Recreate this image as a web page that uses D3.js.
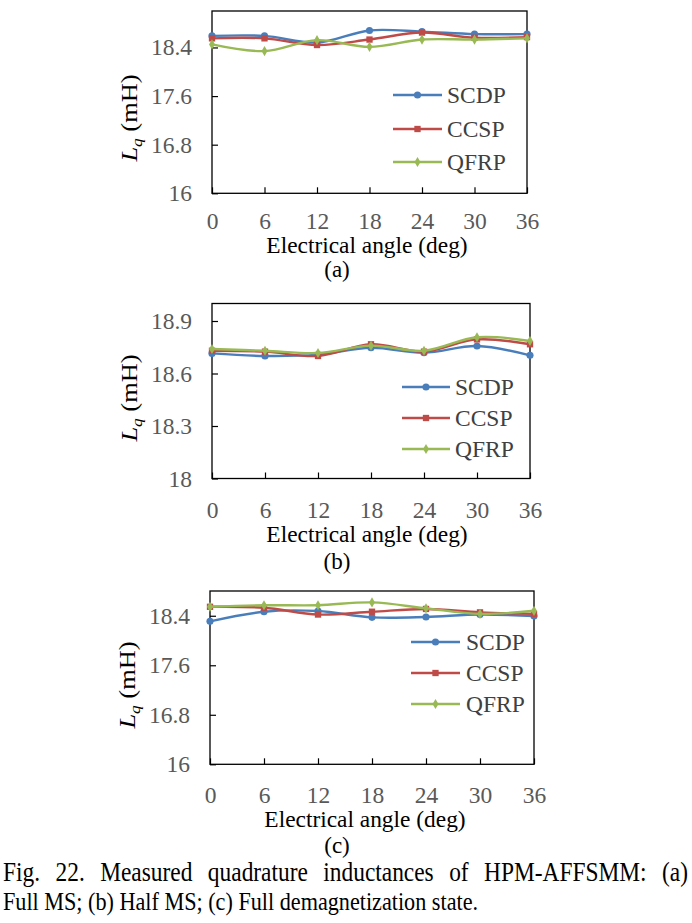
<!DOCTYPE html>
<html><head><meta charset="utf-8">
<script src="https://cdn.jsdelivr.net/npm/d3@7"></script>
<style>
html,body{margin:0;padding:0;background:#fff;}
svg{display:block;}
svg text{font-family:"Liberation Serif","Times New Roman",Times,serif;}
</style></head>
<body>
<svg id="chart" width="692" height="923"></svg>
<script>
// ---- data ----
const angles = [0, 6, 12, 18, 24, 30, 36];
const seriesNames = ["SCDP", "CCSP", "QFRP"];
// (a) Full MS
const scdpA = [18.59, 18.59, 18.48, 18.68, 18.66, 18.62, 18.62];
const ccspA = [18.55, 18.55, 18.44, 18.53, 18.645, 18.56, 18.57];
const qfrpA = [18.45, 18.34, 18.52, 18.41, 18.53, 18.53, 18.55];
// (b) Half MS
const scdpB = [18.715, 18.70, 18.708, 18.747, 18.719, 18.757, 18.704];
const ccspB = [18.730, 18.725, 18.70, 18.767, 18.725, 18.795, 18.767];
const qfrpB = [18.740, 18.730, 18.717, 18.759, 18.730, 18.807, 18.786];
// (c) Full demagnetization state
const scdpC = [18.31, 18.465, 18.476, 18.374, 18.38, 18.42, 18.395];
const ccspC = [18.545, 18.53, 18.42, 18.465, 18.51, 18.455, 18.43];
const qfrpC = [18.545, 18.57, 18.57, 18.616, 18.52, 18.43, 18.48];
// tick labels
const xTicks = [0, 6, 12, 18, 24, 30, 36];
const yTicksA = [16, 16.8, 17.6, 18.4];
const yTicksB = [18, 18.3, 18.6, 18.9];
const yTicksC = [16, 16.8, 17.6, 18.4];
const yDomainA = [16, 19];
const yDomainB = [18, 19];
const yDomainC = [16, 18.8];
const panelLabels = ["(a)", "(b)", "(c)"];
const xTitle = "Electrical angle (deg)";
const captionLines = ["Fig. 22. Measured quadrature inductances of HPM-AFFSMM: (a)",
                      "Full MS; (b) Half MS; (c) Full demagnetization state."];

const colors = {SCDP: "#4A7EBB", CCSP: "#BE4B48", QFRP: "#98B954"};
const markers = {SCDP: d3.symbolCircle, CCSP: d3.symbolSquare, QFRP: d3.symbolDiamond};
const markerSize = {SCDP: 40, CCSP: 40, QFRP: 30};

const svg = d3.select("#chart");

const panels = [
  {vals: [scdpA, ccspA, qfrpA], yDomain: yDomainA, yTicks: yTicksA,
   box: {l: 212, t: 11, r: 527, b: 193.3}, yTitleY: 118, xTickBase: 229, xTitleBase: 252.5, labelBase: 277,
   legend: {x1: 393, x2: 442, tx: 447, ys: [95, 129, 162]}},
  {vals: [scdpB, ccspB, qfrpB], yDomain: yDomainB, yTicks: yTicksB,
   box: {l: 212, t: 303.5, r: 530, b: 478.5}, yTitleY: 398, xTickBase: 518, xTitleBase: 541.5, labelBase: 569,
   legend: {x1: 402, x2: 450, tx: 455, ys: [387, 418, 449]}},
  {vals: [scdpC, ccspC, qfrpC], yDomain: yDomainC, yTicks: yTicksC,
   box: {l: 210, t: 591, r: 534, b: 764.3}, yTitleY: 685, xTickBase: 803, xTitleBase: 826.5, labelBase: 853,
   legend: {x1: 411, x2: 460, tx: 466, ys: [642, 673, 704]}}
];

panels.forEach((p, pi) => {
  const g = svg.append("g");
  const x = d3.scaleLinear().domain([0, 36]).range([p.box.l, p.box.r]);
  const y = d3.scaleLinear().domain(p.yDomain).range([p.box.b, p.box.t]);

  // plot frame
  g.append("rect").attr("x", p.box.l).attr("y", p.box.t)
    .attr("width", p.box.r - p.box.l).attr("height", p.box.b - p.box.t)
    .attr("fill", "none").attr("stroke", "#000").attr("stroke-width", 1.3);

  // y axis (ticks inside)
  const yAxis = d3.axisLeft(y).tickValues(p.yTicks).tickSizeInner(-6).tickSizeOuter(0)
    .tickPadding(20).tickFormat(d3.format(""));
  const ya = g.append("g").attr("transform", `translate(${p.box.l},0)`).call(yAxis);
  ya.attr("font-family", null).attr("font-size", null);
  ya.select(".domain").remove();
  ya.selectAll("line").attr("stroke", "#000").attr("stroke-width", 1.2);
  ya.selectAll("text").attr("font-size", 23.5).attr("fill", "#595959");

  // x axis (ticks inside)
  const xAxis = d3.axisBottom(x).tickValues(xTicks).tickSizeInner(-6).tickSizeOuter(0);
  const xa = g.append("g").attr("transform", `translate(0,${p.box.b})`).call(xAxis);
  xa.attr("font-family", null).attr("font-size", null);
  xa.select(".domain").remove();
  xa.selectAll("line").attr("stroke", "#000").attr("stroke-width", 1.2);
  xa.selectAll("text").attr("font-size", 23.5).attr("fill", "#595959")
    .attr("y", p.xTickBase - p.box.b).attr("dy", 0);

  // y title
  const yt = g.append("text")
    .attr("transform", `translate(${p.box.l - 75},${p.yTitleY}) scale(1,1.15) rotate(-90)`)
    .attr("text-anchor", "middle").attr("font-size", 23).attr("fill", "#000");
  yt.append("tspan").attr("font-style", "italic").text("L");
  yt.append("tspan").attr("font-style", "italic").attr("font-size", 15).attr("dy", 5).text("q");
  yt.append("tspan").attr("dy", -5).text(" (mH)");

  // x title
  g.append("text").attr("x", 367 + (p.box.l - 212)).attr("y", p.xTitleBase)
    .attr("text-anchor", "middle").attr("font-size", 23.4).attr("fill", "#000")
    .text(xTitle);

  // series
  const line = d3.line().x((d, i) => x(angles[i])).y(d => y(d)).curve(d3.curveCatmullRom.alpha(0.5));
  seriesNames.forEach((name, si) => {
    const vals = p.vals[si];
    g.append("path").datum(vals).attr("d", line).attr("fill", "none")
      .attr("stroke", colors[name]).attr("stroke-width", 2.4);
    g.selectAll(null).data(vals).enter().append("path")
      .attr("d", d3.symbol().type(markers[name]).size(markerSize[name]))
      .attr("transform", (d, i) => `translate(${x(angles[i])},${y(d)})`)
      .attr("fill", colors[name]);
  });

  // legend
  seriesNames.forEach((name, si) => {
    const ly = p.legend.ys[si];
    g.append("line").attr("x1", p.legend.x1).attr("x2", p.legend.x2).attr("y1", ly).attr("y2", ly)
      .attr("stroke", colors[name]).attr("stroke-width", 2.4);
    g.append("path").attr("d", d3.symbol().type(markers[name]).size(markerSize[name]))
      .attr("transform", `translate(${(p.legend.x1 + p.legend.x2) / 2},${ly})`).attr("fill", colors[name]);
    g.append("text").attr("x", p.legend.tx).attr("y", ly).attr("dy", "0.35em")
      .attr("font-size", 23.5).attr("fill", "#404040").text(name);
  });

  // panel label
  g.append("text").attr("x", 337).attr("y", p.labelBase).attr("text-anchor", "middle")
    .attr("font-size", 23).attr("fill", "#000").text(panelLabels[pi]);
});

// caption (first line justified by word spacing, slightly tall glyphs as in the reference)
const capSizes = [23.4, 22.2];
captionLines.forEach((t, i) => {
  const c = svg.append("text")
    .attr("transform", `translate(3,${881 + i * 29}) scale(1,1.15)`)
    .attr("font-size", capSizes[i]).attr("fill", "#000").text(t);
  if (i === 0) {
    const w = c.node().getComputedTextLength();
    const n = t.split(" ").length - 1;
    c.attr("word-spacing", Math.max(0, (685 - w) / n));
  }
});
</script>
</body></html>
